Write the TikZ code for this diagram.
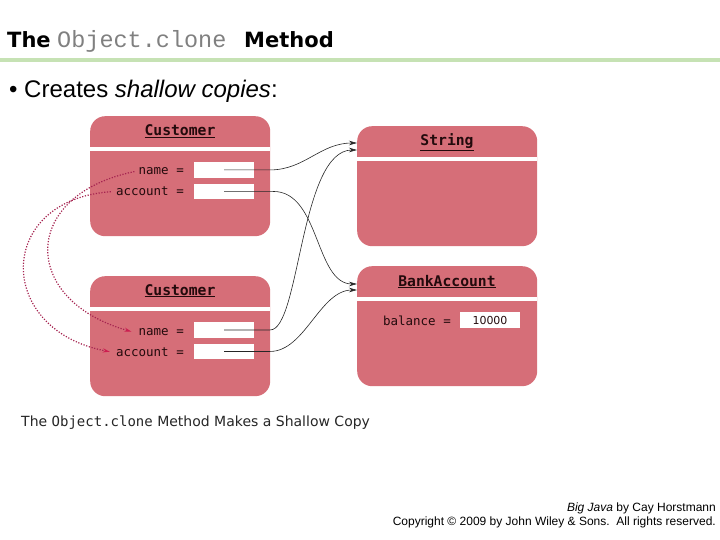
\documentclass[tikz,border=0pt]{standalone}
\usepackage{fontspec}
\setmainfont{DejaVu Sans}
\newfontfamily\arialf{Liberation Sans}
\newfontfamily\courf{Liberation Mono}
\newfontfamily\monof{DejaVu Sans Mono}
\usetikzlibrary{arrows.meta}
\definecolor{boxred}{RGB}{214,110,120}
\definecolor{linegreen}{RGB}{198,226,180}
\definecolor{dotred}{RGB}{165,35,80}
\definecolor{tipred}{RGB}{205,30,80}
\definecolor{boxtext}{RGB}{35,10,12}
\tikzset{
  objbox/.style={draw=none, fill=boxred, rounded corners=15pt, minimum width=180pt, minimum height=120pt, inner sep=0pt, anchor=north west},
  hdr/.style={font=\monof\bfseries\fontsize{14.7}{16}\selectfont, text=boxtext, anchor=base, inner sep=0pt},
  fld/.style={font=\monof\fontsize{12.5}{14}\selectfont, text=boxtext, anchor=base east, inner sep=0pt},
  slot/.style={fill=white, minimum width=60pt, minimum height=15.5pt, inner sep=0pt, anchor=north west},
  sepline/.style={white, line width=4pt},
  refarrow/.style={black!85, line width=0.6pt, -{Stealth[length=8pt,width=4.5pt]}},
  copyarrow/.style={dotred, line width=1.2pt, dash pattern=on 1.2pt off 1.6pt, -{Stealth[length=7pt,width=4pt,color=tipred]}},
}
\begin{document}
\begin{tikzpicture}[x=1pt,y=-1pt]
\useasboundingbox (0,0) rectangle (720,540);
% title
\node[anchor=base west, inner sep=0pt, font=\bfseries\fontsize{21}{24}\selectfont] (tthe) at (7,48) {The};
\node[anchor=base west, inner sep=0pt, font=\courf\fontsize{23.5}{26}\selectfont, text=black!50] (tobj) at (57,48) {Object.clone};
\node[anchor=base west, inner sep=0pt, font=\bfseries\fontsize{21}{24}\selectfont] (tmeth) at (244,48) {Method};
\draw[linegreen, line width=4pt] (0,60) -- (720,60);
\node[anchor=base west, inner sep=0pt, font=\arialf\fontsize{24}{28}\selectfont] (bullet) at (9,98) {• Creates \textit{shallow copies}:};

% boxes
\node[objbox] (c1) at (90,116) {};
\draw[sepline] (90,149) -- (270,149);
\node[hdr] (c1h) at (180,136) {\underline{Customer}};
\node[fld] (c1n) at (184,175) {name =};
\node[slot] (c1ns) at (194,162) {};
\node[fld] (c1a) at (184,196) {account =};
\node[slot] (c1as) at (194,183.5) {};

\node[objbox] (c2) at (90,276) {};
\draw[sepline] (90,309) -- (270,309);
\node[hdr] (c2h) at (180,295) {\underline{Customer}};
\node[fld] (c2n) at (184,335) {name =};
\node[slot] (c2ns) at (194,322) {};
\node[fld] (c2a) at (184,356) {account =};
\node[slot] (c2as) at (194,343.5) {};

\node[objbox] (s) at (357,126) {};
\draw[sepline] (357,159) -- (537,159);
\node[hdr] (sh) at (447,146) {\underline{String}};

\node[objbox] (b) at (357,266) {};
\draw[sepline] (357,299) -- (537,299);
\node[hdr] (bh) at (447,286) {\underline{BankAccount}};
\node[fld] (bbal) at (451,325) {balance =};
\node[slot] (bbs) at (460,312) {};
\node[anchor=base, inner sep=0pt, font=\fontsize{11}{13}\selectfont, text=boxtext] (bval) at (490,324.5) {10000};

% reference targets
\coordinate (sin1) at (357,143);
\coordinate (sin2) at (357,150);
\coordinate (bin1) at (357,284);
\coordinate (bin2) at (357,290);

\draw[refarrow] (c1ns.center) -- ++(46,0) .. controls (305,169.75) and (320,143) .. (sin1);
\draw[refarrow] (c1as.center) -- ++(49,0) .. controls (320,191.25) and (315,284) .. (bin1);
\draw[refarrow] (c2ns.center) -- ++(46,0) .. controls (300,329.75) and (300,150) .. (sin2);
\draw[refarrow] (c2as.center) -- ++(46,0) .. controls (305,351.25) and (320,290) .. (bin2);

% copy arrows
\draw[copyarrow] ([xshift=-4pt]c1n.west) .. controls (20,195) and (20,300) .. ([xshift=-7pt]c2n.west);
\draw[copyarrow] ([xshift=-5pt]c1a.west) .. controls (-5,200) and (-5,330) .. ([xshift=-6pt]c2a.west);

% caption
\node[anchor=base west, inner sep=0pt, font=\fontsize{14}{16}\selectfont, text=black!85] (cap) at (21,426) {The {\monof Object.clone} Method Makes a Shallow Copy};

% footer
\node[anchor=base east, inner sep=0pt, font=\arialf\fontsize{12}{13}\selectfont] (f1) at (716,511) {\textit{Big Java} by Cay Horstmann};
\node[anchor=base east, inner sep=0pt, font=\arialf\fontsize{12}{13}\selectfont] (f2) at (716,525) {Copyright © 2009 by John Wiley \& Sons.\ \ All rights reserved.};
\end{tikzpicture}
\end{document}
